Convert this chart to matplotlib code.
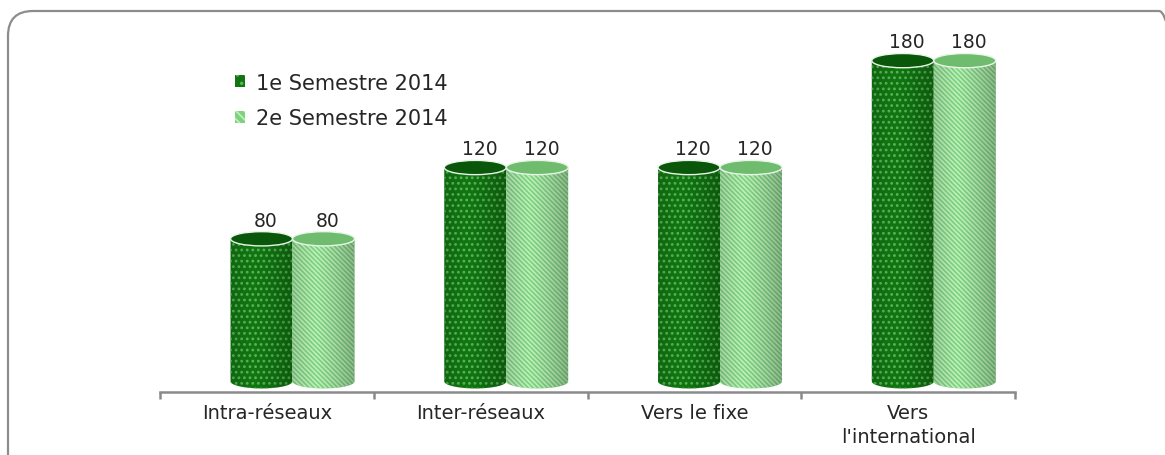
import numpy as np
import matplotlib.pyplot as plt
from matplotlib.patches import Polygon, Ellipse, Rectangle, FancyBboxPatch

categories = ["Intra-réseaux", "Inter-réseaux", "Vers le fixe", "Vers\nl'international"]
sem1 = [80, 120, 120, 180]
sem2 = [80, 120, 120, 180]
series_names = ["1e Semestre 2014", "2e Semestre 2014"]

plt.rcParams['font.family'] = ['DejaVu Sans']
TXT = "#262626"
AXC = "#8a8a8a"

DARK = "#127512"
DARK_TOP = "#0a560a"
DARK_HATCH = "#58b858"
LIGHT = "#7ed27e"
LIGHT_TOP = "#6fbc6f"
LIGHT_HATCH = "#bff0bf"

fig = plt.figure(figsize=(11.65, 4.56), dpi=100)
ax = fig.add_axes([160 / 1165, 63 / 456, 855 / 1165, 367 / 456])

EH = 8.0   # ellipse height in data units
W = 0.29


def cylinder(ax, xc, h, body, top, hatch, hcolor, z):
    x0, x1 = xc - W / 2, xc + W / 2
    t = np.linspace(np.pi, 2 * np.pi, 60)
    arc = np.column_stack([xc + W / 2 * np.cos(t), EH / 2 * np.sin(t)])
    pts = np.vstack([[[x0, h], [x0, 0]], arc, [[x1, 0], [x1, h]]])
    base = Polygon(pts, closed=True, facecolor=body, edgecolor='none', zorder=z)
    ax.add_patch(base)
    hat = Polygon(pts, closed=True, facecolor='none', edgecolor=hcolor,
                  linewidth=0, hatch=hatch, zorder=z + 0.1)
    ax.add_patch(hat)
    # shading across the cylinder
    u = np.linspace(0, 1, 200)
    a = 0.45 * np.abs(u - 0.38) ** 1.3
    grad = np.zeros((1, 200, 4))
    grad[0, :, 3] = a
    im = ax.imshow(grad, extent=[x0, x1, -EH / 2, h], aspect='auto',
                   zorder=z + 0.2, interpolation='bilinear')
    im.set_clip_path(base)
    ax.add_patch(Ellipse((xc, h), W, EH, facecolor=top, edgecolor="#e8f5e8",
                         linewidth=1.0, zorder=z + 0.3))
    ax.text(xc + 0.02, h + EH / 2 + 1.2, str(h), ha='center', va='bottom',
            fontsize=13.5, color=TXT, zorder=z + 1)


plt.rcParams['hatch.linewidth'] = 1.2
for i in range(len(categories)):
    cylinder(ax, i + 0.475, sem1[i], DARK, DARK_TOP, '...', DARK_HATCH, 2 + i)
    cylinder(ax, i + 0.765, sem2[i], LIGHT, LIGHT_TOP, '\\\\\\\\\\\\\\', LIGHT_HATCH, 2.5 + i)

ax.set_xlim(0, 4)
ax.set_ylim(-6, 200)
for s in ['top', 'right', 'left']:
    ax.spines[s].set_visible(False)
ax.spines['bottom'].set_color(AXC)
ax.spines['bottom'].set_linewidth(1.8)
ax.set_yticks([])
ax.set_xticks(range(5))
ax.set_xticklabels([])
ax.set_xticks(np.arange(4) + 0.5, minor=True)
ax.set_xticklabels(categories, minor=True, fontsize=14, color=TXT, linespacing=1.3)
ax.tick_params(axis='x', which='major', length=5, width=1.8, color=AXC, direction='out')
ax.tick_params(axis='x', which='minor', length=0, pad=8)

handles = [Rectangle((0, 0), 1, 1, facecolor=DARK, edgecolor=DARK_HATCH, linewidth=0, hatch='..'),
           Rectangle((0, 0), 1, 1, facecolor=LIGHT, edgecolor=LIGHT_HATCH, linewidth=0, hatch='\\\\\\\\')]
fig.legend(handles, series_names, loc='upper left', bbox_to_anchor=(216 / 1165, 1 - 55 / 456),
           frameon=False, fontsize=15, handlelength=0.5, handleheight=0.5,
           handletextpad=0.5, labelspacing=0.75, labelcolor=TXT)

border = FancyBboxPatch((0.08, -0.3), 11.76, 4.44 + 0.3, boxstyle="round,pad=0,rounding_size=0.25",
                        transform=fig.dpi_scale_trans, facecolor='none', edgecolor="#8c8c8c",
                        linewidth=1.6, clip_on=False)
fig.patches.append(border)

fig.savefig("out.png", dpi=100)
